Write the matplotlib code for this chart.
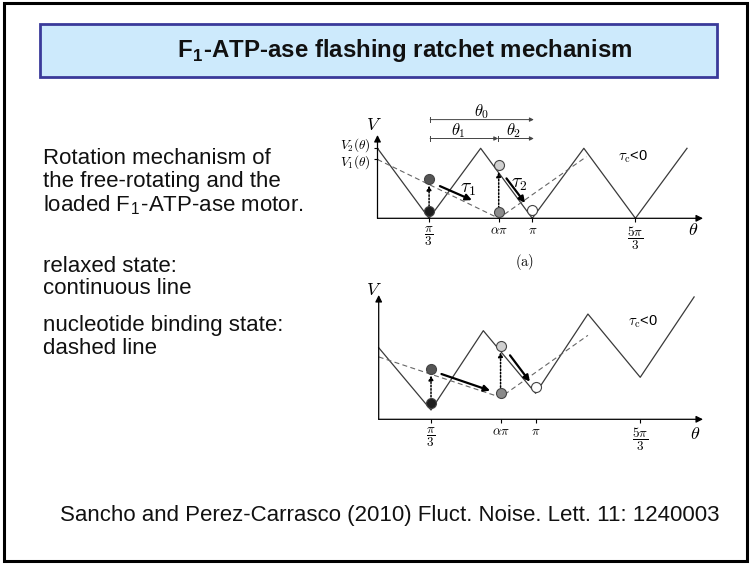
import matplotlib
matplotlib.use("Agg")
import matplotlib.pyplot as plt
from matplotlib.patches import Rectangle

plt.rcParams['mathtext.fontset'] = 'cm'
plt.rcParams['font.family'] = ['Liberation Sans', 'DejaVu Sans']

W, H = 754, 564

# ---------------- data (theta in units of pi/3) ----------------
alpha_top = 2.35
alpha_bot = 2.33
tick_labels = [r'$\dfrac{\pi}{3}$', r'$\alpha\pi$', r'$\pi$', r'$\dfrac{5\pi}{3}$']

# panel (a): free-rotating
top_solid_u = [0, 1, 2, 3, 4, 5, 6]
top_solid_v = [1.0, 0.0, 1.0, 0.0, 1.0, 0.0, 1.0]
top_dash_u = [0, alpha_top, 4.05]
top_dash_v = [0.84, 0.0, 0.88]
top_dot_u = [1, 1, alpha_top, alpha_top, 3]
top_dot_v = [0.10, 0.56, 0.09, 0.76, 0.12]
dot_colors = ['#1e1e1e', '#555555', '#8a8a8a', '#d0d0d0', '#ffffff']

# panel (b): loaded motor (tilted)
bot_solid_u = [0, 1, 2, 3, 4, 5, 6.03]
bot_solid_v = [0.895, 0.116, 1.108, 0.325, 1.316, 0.525, 1.53]
bot_dash_u = [0, alpha_bot, 4.0]
bot_dash_v = [0.78, 0.275, 1.05]
bot_dot_u = [1, 1, alpha_bot, alpha_bot, 3]
bot_dot_v = [0.21, 0.625, 0.325, 0.92, 0.41]

fig = plt.figure(figsize=(W / 100, H / 100), dpi=100)
bg = fig.add_axes([0, 0, 1, 1])
bg.set_xlim(0, W)
bg.set_ylim(H, 0)
bg.axis('off')

# slide frame and title box
bg.add_patch(Rectangle((4, 3), 743, 558, fill=False, ec='black', lw=2.2))
bg.add_patch(Rectangle((39.5, 23.5), 677.5, 53.5, fc='#cdeafc', ec='#3a3a9a', lw=2))
bg.text(405, 50, r'F$_\mathregular{1}$-ATP-ase flashing ratchet mechanism', ha='center', va='center',
        fontsize=17.3, fontweight='bold', color='#111111')

left_lines = [
    (158, 'Rotation mechanism of'),
    (182, 'the free-rotating and the'),
    (205, r'loaded F$_\mathregular{1}$-ATP-ase motor.'),
    (266, 'relaxed state:'),
    (289, 'continuous line'),
    (325, 'nucleotide binding state:'),
    (348, 'dashed line'),
]
for y, t in left_lines:
    bg.text(43, y, t, ha='left', va='center', fontsize=16, color='#111111')

bg.text(390, 516, 'Sancho and Perez-Carrasco (2010) Fluct. Noise. Lett. 11: 1240003',
        ha='center', va='center', fontsize=16, color='#111111')


def px_axes(left, top, right, bottom):
    return fig.add_axes([left / W, 1 - bottom / H, (right - left) / W, (bottom - top) / H])


def setup(ax, alpha, xmax, ymax):
    ax.set_xlim(0, xmax)
    ax.set_ylim(0, ymax)
    for s in ax.spines.values():
        s.set_visible(False)
    ax.patch.set_alpha(0)
    ax.annotate('', xy=(1, 0), xytext=(0, 0), xycoords='axes fraction',
                arrowprops=dict(arrowstyle='-|>', color='k', lw=0.9, mutation_scale=10,
                                shrinkA=0, shrinkB=0))
    ax.annotate('', xy=(0, 1), xytext=(0, 0), xycoords='axes fraction',
                arrowprops=dict(arrowstyle='-|>', color='k', lw=0.9, mutation_scale=10,
                                shrinkA=0, shrinkB=0))
    ax.set_xticks([1, alpha, 3, 5])
    ax.set_xticklabels(tick_labels, fontsize=9.5)
    ax.tick_params(axis='x', length=3, width=0.8, pad=2, direction='out')


def draw_panel(ax, su, sv, du, dv, pu, pv, arrows, dotted):
    ax.plot(su, sv, color='#3a3a3a', lw=0.9, clip_on=False)
    ax.plot(du, dv, color='#666666', lw=0.8, ls=(0, (4.5, 3)), clip_on=False)
    for (x0, y0, x1, y1) in dotted:
        ax.annotate('', xy=(x1, y1), xytext=(x0, y0),
                    arrowprops=dict(arrowstyle='-|>', color='k', lw=1.1, ls=(0, (1, 1.2)),
                                    mutation_scale=7, shrinkA=0, shrinkB=0))
    for (x0, y0, x1, y1) in arrows:
        ax.annotate('', xy=(x1, y1), xytext=(x0, y0),
                    arrowprops=dict(arrowstyle='-|>', color='k', lw=1.6,
                                    mutation_scale=9, shrinkA=0, shrinkB=0))
    for x, y, c in zip(pu, pv, dot_colors):
        ax.plot([x], [y], 'o', ms=7.2, mfc=c, mec='#444444', mew=0.8, clip_on=False, zorder=5)


# ---------------- top panel ----------------
ax1 = px_axes(377.5, 135, 703, 218.3)
setup(ax1, alpha_top, 6.31, 1.19)
ax1.set_yticks([top_dash_v[0], top_solid_v[0]])
ax1.set_yticklabels([])
ax1.tick_params(axis='y', length=3, width=0.8, pad=1)
ax1.annotate(r'$V_2(\theta)$', xy=(0, top_solid_v[0]), xytext=(-5, 2.5),
             textcoords='offset points', ha='right', va='center', fontsize=9.6,
             annotation_clip=False)
ax1.annotate(r'$V_1(\theta)$', xy=(0, top_dash_v[0]), xytext=(-5, -2.2),
             textcoords='offset points', ha='right', va='center', fontsize=9.6,
             annotation_clip=False)
ax1.text(-0.035, 1.06, r'$V$', transform=ax1.transAxes, fontsize=13)
draw_panel(ax1, top_solid_u, top_solid_v, top_dash_u, top_dash_v, top_dot_u, top_dot_v,
           arrows=[(1.21, 0.46, 1.83, 0.26), (2.50, 0.57, 2.86, 0.22)],
           dotted=[(1, 0.17, 1, 0.47), (alpha_top, 0.15, alpha_top, 0.66)])
ax1.text(1.60, 0.36, r'$\tau_1$', fontsize=14)
ax1.text(2.58, 0.44, r'$\tau_2$', fontsize=14)
ax1.text(4.67, 0.82, r'$\tau_{\rm c}$<0', fontsize=10.5, family=['Liberation Sans'])
ax1.text(6.12, -0.18, r'$\theta$', fontsize=13, ha='center', va='center')
ax1.text(2.85, -0.62, r'$\mathrm{(a)}$', fontsize=10.5, ha='center', va='center')

# theta brackets
for (x0, x1, y) in [(1.02, 3.03, 1.41), (1.02, 2.34, 1.14), (2.34, 3.03, 1.14)]:
    ax1.annotate('', xy=(x1, y), xytext=(x0, y), annotation_clip=False,
                 arrowprops=dict(arrowstyle='-|>', color='#444444', lw=0.7, mutation_scale=6,
                                 shrinkA=0, shrinkB=0))
    ax1.plot([x0, x0], [y - 0.04, y + 0.04], color='#444444', lw=0.7, clip_on=False)
ax1.text(2.02, 1.52, r'$\theta_0$', fontsize=12, ha='center', va='center')
ax1.text(1.56, 1.25, r'$\theta_1$', fontsize=12, ha='center', va='center')
ax1.text(2.63, 1.25, r'$\theta_2$', fontsize=12, ha='center', va='center')

# ---------------- bottom panel ----------------
ax2 = px_axes(378.7, 295, 703, 419.3)
setup(ax2, alpha_bot, 6.2, 1.554)
ax2.set_yticks([])
ax2.text(-0.04, 1.0, r'$V$', transform=ax2.transAxes, fontsize=13)
draw_panel(ax2, bot_solid_u, bot_solid_v, bot_dash_u, bot_dash_v, bot_dot_u, bot_dot_v,
           arrows=[(1.20, 0.566, 2.13, 0.358), (2.51, 0.80, 2.89, 0.47)],
           dotted=[(1, 0.28, 1, 0.55), (alpha_bot, 0.40, alpha_bot, 0.84)])
ax2.text(4.76, 1.17, r'$\tau_{\rm c}$<0', fontsize=10.5, family=['Liberation Sans'])
ax2.text(6.05, -0.19, r'$\theta$', fontsize=13, ha='center', va='center')

fig.savefig('out.png', dpi=100)
